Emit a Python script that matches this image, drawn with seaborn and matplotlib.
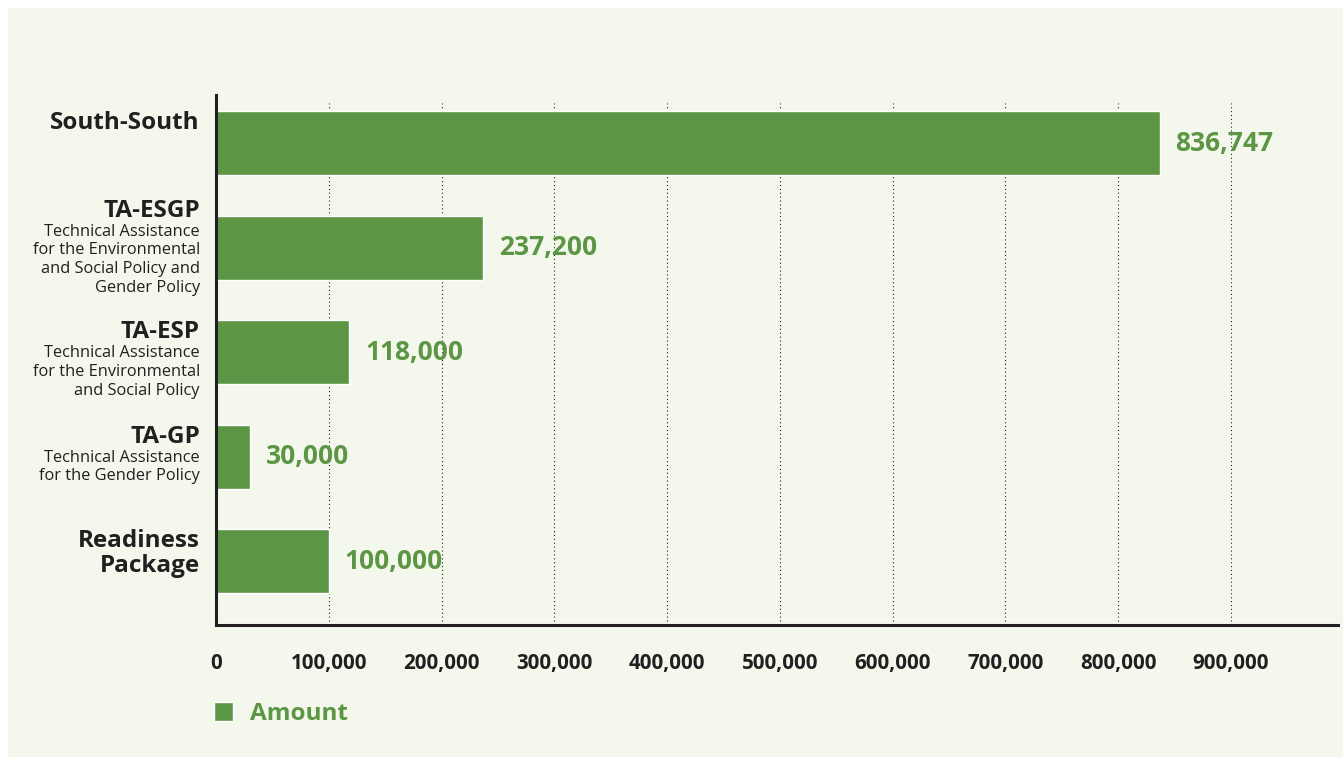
#=====================================================================================================
# Program Name     : ProgrammeAmountBarPlot
# Description      : Horizontal bar chart of the amount per programme (South-South, TA, Readiness).
# Output           : out.png
#=====================================================================================================

import pandas as pd
import matplotlib.pyplot as plt
import matplotlib.transforms as mtransforms
from matplotlib.patches import Rectangle
import seaborn as sns

#-----------------------------------------------------------------------------------------------------
# Chart data
#-----------------------------------------------------------------------------------------------------
programmes = ["South-South", "TA-ESGP", "TA-ESP", "TA-GP", "Readiness\nPackage"]
descriptions = [
    "",
    "Technical Assistance\nfor the Environmental\nand Social Policy and\nGender Policy",
    "Technical Assistance\nfor the Environmental\nand Social Policy",
    "Technical Assistance\nfor the Gender Policy",
    "",
]
amounts = [836747, 237200, 118000, 30000, 100000]
tick_values = [0, 100000, 200000, 300000, 400000, 500000, 600000, 700000, 800000, 900000]
series_name = "Amount"

GREEN = "#5c9645"
DARK = "#231f20"
PANEL = "#f4f8ec"


def plot_amounts(df):
    fig = plt.figure(figsize=(13.43, 7.64), dpi=100, facecolor="white")
    # pale panel behind everything, leaving a thin white frame
    fig.patches.append(Rectangle((8 / 1343, 7 / 764), 1.0, 749 / 764,
                                 transform=fig.transFigure, facecolor=PANEL,
                                 edgecolor="none", zorder=-10))

    ax = fig.add_axes([216 / 1343, 1 - 625 / 764, (1338 - 216) / 1343, (625 - 95) / 764])
    ax.set_facecolor("none")

    sns.barplot(data=df, x="Amount", y="Programme", orient="h", color=GREEN,
                saturation=1, width=0.61, label=series_name, ax=ax)

    ax.set_xlim(0, 995000)
    ax.set_ylim(4.61, -0.46)
    ax.set_xticks(tick_values)
    ax.set_xticklabels([f"{v:,}" for v in tick_values], fontsize=14.8,
                       fontweight="bold", color=DARK)
    ax.tick_params(axis="x", length=0, pad=20)
    ax.set_yticks([])
    ax.set_xlabel("")
    ax.set_ylabel("")

    for v in tick_values[1:]:
        ax.axvline(v, ymax=0.985, color=DARK, linewidth=0.8,
                   linestyle=(0, (1, 2.5)), zorder=0)

    for side in ["top", "right"]:
        ax.spines[side].set_visible(False)
    for side in ["left", "bottom"]:
        ax.spines[side].set_color(DARK)
        ax.spines[side].set_linewidth(2.2)

    # value labels
    ax.bar_label(ax.containers[0], labels=[f"{v:,}" for v in df["Amount"]],
                 padding=11.5, fontsize=19, fontweight="bold", color=GREEN)

    # category labels: bold title + smaller description lines
    trans = mtransforms.blended_transform_factory(ax.transAxes, ax.transData)
    for i, (title, desc) in enumerate(zip(df["Programme"], descriptions)):
        desc_lines = desc.split("\n") if desc else []
        top = 20 + max(0, len(desc_lines) - 3) * 17
        y_px = -top
        for line in title.split("\n"):
            ax.annotate(line, xy=(0, i), xycoords=trans, xytext=(-16, -y_px),
                        textcoords="offset pixels", ha="right", va="center",
                        fontsize=17.5, fontweight="bold", color=DARK)
            y_px += 25
        y_px += -25 + 21
        for line in desc_lines:
            ax.annotate(line, xy=(0, i), xycoords=trans, xytext=(-16, -y_px),
                        textcoords="offset pixels", ha="right", va="center",
                        fontsize=11.8, color=DARK)
            y_px += 18.7

    leg = ax.legend(loc="center left", bbox_to_anchor=(214 / 1343, 1 - 714 / 764),
                    bbox_transform=fig.transFigure, frameon=False,
                    handlelength=0.8, handleheight=0.8, handletextpad=0.7,
                    prop={"size": 17.5, "weight": "bold"}, borderaxespad=0,
                    borderpad=0)
    for text in leg.get_texts():
        text.set_color(GREEN)

    fig.savefig("out.png", dpi=100, facecolor="white")


def main():
    sns.set_style("white")
    plt.rcParams["font.family"] = ["Open Sans", "DejaVu Sans"]
    df = pd.DataFrame({"Programme": programmes, "Amount": amounts})
    plot_amounts(df)


if __name__ == "__main__":
    main()
